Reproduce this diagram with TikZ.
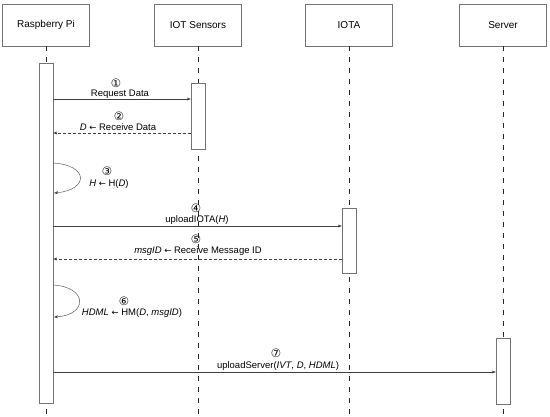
\documentclass[tikz,border=0pt]{standalone}
\usepackage{fontspec}
\setmainfont{Liberation Sans}
\newfontfamily\circfont{DejaVu Sans}
\newcommand{\larr}{{\circfont\fontsize{8.5}{10}\selectfont ←}}
\usetikzlibrary{arrows.meta}
\begin{document}
\begin{tikzpicture}[x=1pt,y=-1pt,
  actor/.style={draw=black!55, minimum width=87pt, minimum height=42pt, inner sep=0, font=\fontsize{10}{12}\selectfont},
  act/.style={draw=black!55, fill=white, minimum width=14pt, inner sep=0},
  life/.style={draw=black!85, dash pattern=on 5pt off 6pt},
  msg/.style={draw=black!75, -{Stealth[length=4pt,width=3pt]}},
  ret/.style={msg, dash pattern=on 3pt off 2pt},
  lbl/.style={font=\fontsize{9.5}{11}\selectfont, inner sep=0, text height=7pt},
  num/.style={font=\circfont\fontsize{11.5}{13}\selectfont, inner sep=0, text depth=0pt}]
\useasboundingbox (0,0) rectangle (550,417);
% actors
\node[actor] (rpi) at (46,25) {Raspberry Pi};
\node[actor] (iot) at (198,25) {IOT Sensors};
\node[actor] (iota) at (349,25) {IOTA};
\node[actor] (srv) at (503,25) {Server};
% lifeline ends
\coordinate (rpiend) at (46,417);
\coordinate (iotend) at (198,417);
\coordinate (iotaend) at (349,417);
\coordinate (srvend) at (503,417);
\draw[life] (rpi.south) -- (rpiend);
\draw[life] (iot.south) -- (iotend);
\draw[life] (iota.south) -- (iotaend);
\draw[life] (srv.south) -- (srvend);
% activations
\node[act, minimum height=340pt] (rpiact) at (46,233) {};
\node[act, minimum height=66pt] (iotact) at (198,116) {};
\node[act, minimum height=65pt] (iotaact) at (349,240.5) {};
\node[act, minimum height=66pt] (srvact) at (503,371) {};
% 1
\draw[msg] (rpiact.east |- 0,99) -- (iotact.west |- 0,99);
\node[num] (n1) at (116,83) {①};
\node[lbl] (l1) at (120,94) {Request Data};
% 2
\draw[ret] (iotact.west |- 0,133) -- (rpiact.east |- 0,133);
\node[num] (n2) at (119,116) {②};
\node[lbl] (l2) at (118,127) {\textit{D} \larr{} Receive Data};
% 3
\coordinate (s3a) at (53,163);
\coordinate (s3b) at (54,193);
\draw[msg] (s3a) .. controls (89,165) and (89,190) .. (s3b);
\node[num] (n3) at (107,171) {③};
\node[lbl] (l3) at (109,184) {\textit{H} \larr{} H(\textit{D})};
% 4
\draw[msg] (rpiact.east |- 0,226) -- (iotaact.west |- 0,226);
\node[num] (n4) at (196,208) {④};
\node[lbl] (l4) at (197,220) {uploadIOTA(\textit{H})};
% 5
\draw[ret] (iotaact.west |- 0,259) -- (rpiact.east |- 0,259);
\node[num] (n5) at (196,239) {⑤};
\node[lbl] (l5) at (198,251) {\textit{msgID} \larr{} Receive Message ID};
% 6
\coordinate (s6a) at (53,285);
\coordinate (s6b) at (54,317);
\draw[msg] (s6a) .. controls (88,287) and (88,315) .. (s6b);
\node[num] (n6) at (124,301) {⑥};
\node[lbl] (l6) at (132,313) {\textit{HDML} \larr{} HM(\textit{D}, \textit{msgID})};
% 7
\draw[msg] (rpiact.east |- 0,372) -- (srvact.west |- 0,372);
\node[num] (n7) at (276,353) {⑦};
\node[lbl] (l7) at (278,366) {uploadServer(\textit{IVT}, \textit{D}, \textit{HDML})};
\end{tikzpicture}
\end{document}
